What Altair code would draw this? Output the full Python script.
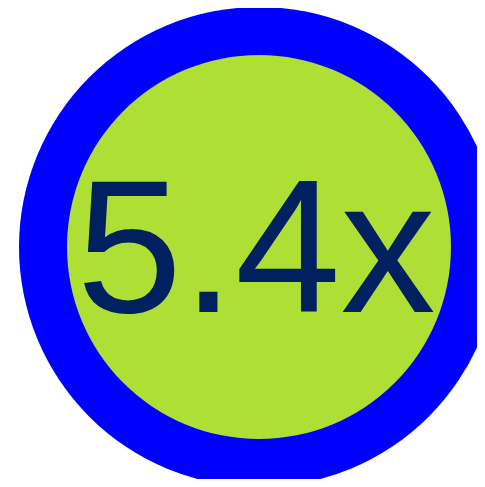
import altair as alt
import pandas as pd

labels = ["5.4x"]
rings = ["outer", "inner"]
ring_share = [1, 1]
ring_colors = ["#0000FF", "#ADDF35"]

ring_df = pd.DataFrame({"ring": rings, "share": ring_share})
text_df = pd.DataFrame({"label": labels})

outer = alt.Chart(ring_df[ring_df.ring == "outer"]).mark_arc(
    radius=240, color=ring_colors[0]
).encode(
    theta=alt.Theta("share:Q"),
    x=alt.value(251), y=alt.value(239),
)

inner = alt.Chart(ring_df[ring_df.ring == "inner"]).mark_arc(
    radius=192, color=ring_colors[1]
).encode(
    theta=alt.Theta("share:Q"),
    x=alt.value(251), y=alt.value(239),
)

txt = alt.Chart(text_df).mark_text(
    font="Liberation Sans", fontSize=190, color="#002060",
    align="center", baseline="alphabetic",
).encode(
    text="label:N",
    x=alt.value(248), y=alt.value(304),
)

chart = alt.layer(outer, inner, txt).properties(
    width=469, height=471, padding=0, background="white",
    autosize=alt.AutoSizeParams(type="none"),
).configure_view(stroke=None)

chart.save("out.html", embed_options={"renderer": "svg", "actions": False})
